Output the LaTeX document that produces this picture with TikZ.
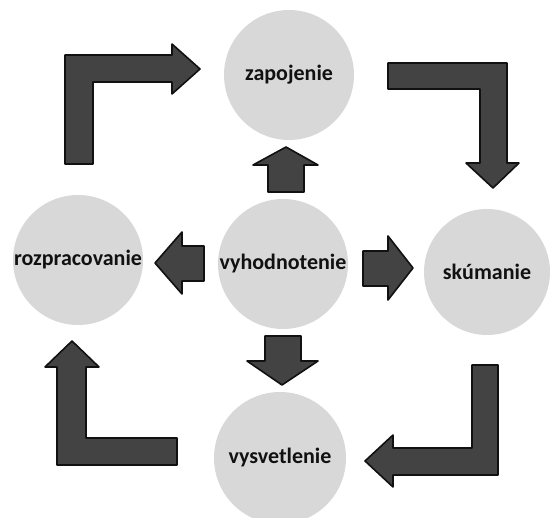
\documentclass[tikz,border=0pt]{standalone}
\usepackage{fontspec}
\setmainfont{Carlito}
\usetikzlibrary{calc}
\definecolor{CycleInk}{HTML}{111111}
\definecolor{CycleArrow}{HTML}{434343}
\definecolor{CycleDot}{HTML}{D8D8D8}

\begin{document}
\begin{tikzpicture}[x=1pt,y=-1pt,
  phase/.style={circle,fill=CycleDot,minimum size=130pt,inner sep=0pt,font=\fontsize{22}{26}\selectfont\bfseries,text=CycleInk},
  blockarr/.style={fill=CycleArrow,draw=CycleInk,line width=1.6pt,line join=round}]
\clip (0,0) rectangle (555,518);
\node[phase] (zap) at (289,75) {zapojenie};
\node[phase] (vyh) at (283,264) {vyhodnotenie};
\node[phase] (roz) at (78,260) {rozpracovanie};
\node[phase,minimum size=126pt] (sku) at (487,272) {skúmanie};
\node[phase,minimum size=132pt] (vys) at (280,458) {vysvetlenie};
% cycle arrows
\draw[blockarr] (65,164)--(65,55)--(172,55)--(172,44)--(200,69)--(172,94)--(172,82)--(93,82)--(93,164)--cycle;
\draw[blockarr] (388,63)--(507,63)--(507,163)--(519,163)--(493,188)--(466,163)--(480,163)--(480,89)--(388,89)--cycle;
\draw[blockarr] (472,365)--(498,365)--(498,475)--(393,475)--(393,487)--(365,461)--(393,435)--(393,448)--(472,448)--cycle;
\draw[blockarr] (177,438)--(177,465)--(57,465)--(57,367)--(45,367)--(72,341)--(99,367)--(86,367)--(86,438)--cycle;
% from the centre
\draw[blockarr] (268,192)--(268,165)--(253,165)--(286,147)--(318,165)--(304,165)--(304,192)--cycle;
\draw[blockarr] (265,336)--(301,336)--(301,361)--(318,361)--(282,385)--(247,361)--(265,361)--cycle;
\draw[blockarr] (204,246)--(182,246)--(182,232)--(155,263)--(182,294)--(182,281)--(204,281)--cycle;
\draw[blockarr] (363,251)--(388,251)--(388,236)--(413,268)--(388,300)--(388,286)--(363,286)--cycle;
\end{tikzpicture}
\end{document}
